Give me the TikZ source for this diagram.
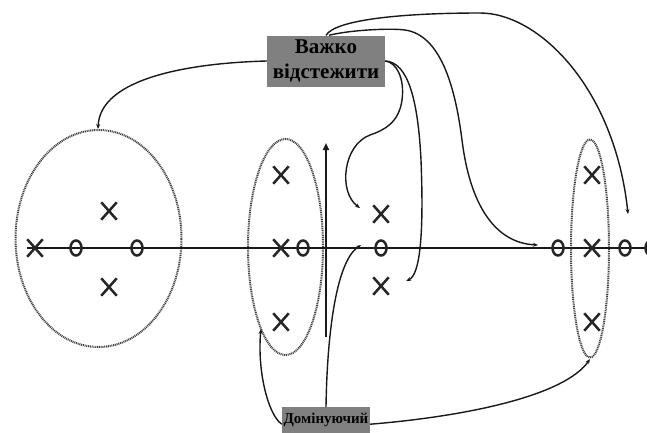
\documentclass[tikz,border=0pt]{standalone}
\usepackage{fontspec}
\setmainfont{Liberation Serif}
\usetikzlibrary{shapes.geometric,shapes.misc,arrows.meta}
\begin{document}
\begin{tikzpicture}[x=1pt,y=-1pt,
  xmark/.style={cross out,draw=black!85,line width=2.5pt,minimum width=13pt,minimum height=15pt,inner sep=0pt},
  omark/.style={ellipse,draw=black!85,line width=2.5pt,minimum width=11pt,minimum height=15pt,inner sep=0pt},
  grp/.style={ellipse,draw=black!75,line width=2pt,dash pattern=on 1pt off 0.8pt,inner sep=0pt},
  lbl/.style={rectangle,fill=gray,text=black,align=center,inner sep=1pt},
  link/.style={line width=1.4pt,draw=black!90,-{Stealth[length=5pt,width=4pt]}},
  axisline/.style={line width=2.2pt,draw=black!90}]
\useasboundingbox (0,0) rectangle (647,432);
\fill[white] (0,0) rectangle (647,432);

% groups
\node[grp,minimum width=166pt,minimum height=217pt] (g1) at (98.5,238.5) {};
\node[grp,minimum width=75pt,minimum height=216pt] (g2) at (285.5,247) {};
\node[grp,minimum width=38pt,minimum height=218pt] (g3) at (590,248.5) {};

% axes
\coordinate (ax0) at (27,248);
\coordinate (ax1) at (647,248);
\draw[axisline] (ax0) -- (ax1);
\coordinate (vb) at (326,337);
\coordinate (vt) at (326,143);
\draw[line width=2.8pt,draw=black!90,-{Triangle[length=7pt,width=6pt]}] (vb) -- (vt);

% poles and zeros
\node[xmark] (x1) at (35,248) {};
\node[omark] (o1) at (76,248) {};
\node[omark] (o2) at (137,248) {};
\node[xmark] (x2) at (109,211) {};
\node[xmark] (x3) at (109,287) {};
\node[xmark] (x4) at (281,175) {};
\node[xmark] (x5) at (281,248) {};
\node[omark] (o3) at (303,248) {};
\node[xmark] (x6) at (281,322) {};
\node[xmark] (x7) at (381,214) {};
\node[omark] (o4) at (381,248) {};
\node[xmark] (x8) at (381,286) {};
\node[omark] (o5) at (558,248) {};
\node[xmark] (x9) at (592,175) {};
\node[xmark] (x10) at (592,248) {};
\node[xmark] (x11) at (592,322) {};
\node[omark] (o6) at (625,248) {};
\node[omark] (o7) at (651,248) {};

% labels
\node[lbl,minimum width=118pt,minimum height=51pt,font=\fontsize{21}{25}\selectfont\bfseries] (hard) at (326,61) {Важко\\відстежити};
\node[lbl,minimum width=88pt,minimum height=28pt,font=\fontsize{15}{18}\selectfont\bfseries,anchor=north] (dom) at (326,407) {\raisebox{5pt}{Домінуючий}};

% connector ends
\coordinate (eA) at (98,129);
\coordinate (eB) at (628,214);
\coordinate (eC) at (538,245);
\coordinate (eD) at (360,208);
\coordinate (eE) at (406,281);
\coordinate (eF) at (261,329);
\coordinate (eG) at (361,245);
\coordinate (eH) at (590,359);

% connectors from top label
\draw[link] (hard.west) .. controls (190,63) and (100,78) .. (eA);
\draw[link] (hard.north) .. controls (335,20) and (400,13) .. (480,13) .. controls (540,13) and (615,90) .. (eB);
\draw[link] ([xshift=3pt]hard.north) .. controls (350,30) and (390,28) .. (405,30) .. controls (440,35) and (455,85) .. (462,140) .. controls (470,205) and (495,243) .. (eC);
\draw[link] (hard.east) .. controls (396,62) and (405,78) .. (402,100) .. controls (399,122) and (385,130) .. (370,135) .. controls (343,145) and (338,192) .. (eD);
\draw[link] (hard.east) .. controls (408,62) and (418,100) .. (421,160) .. controls (424,235) and (420,275) .. (eE);

% connectors from bottom label
\draw[link] ([yshift=-3pt]dom.west) .. controls (268,415) and (257,370) .. (eF);
\draw[link] (dom.north) .. controls (327,340) and (335,262) .. (eG);
\draw[link] ([yshift=-3pt]dom.east) .. controls (470,416) and (565,395) .. (eH);
\end{tikzpicture}
\end{document}
